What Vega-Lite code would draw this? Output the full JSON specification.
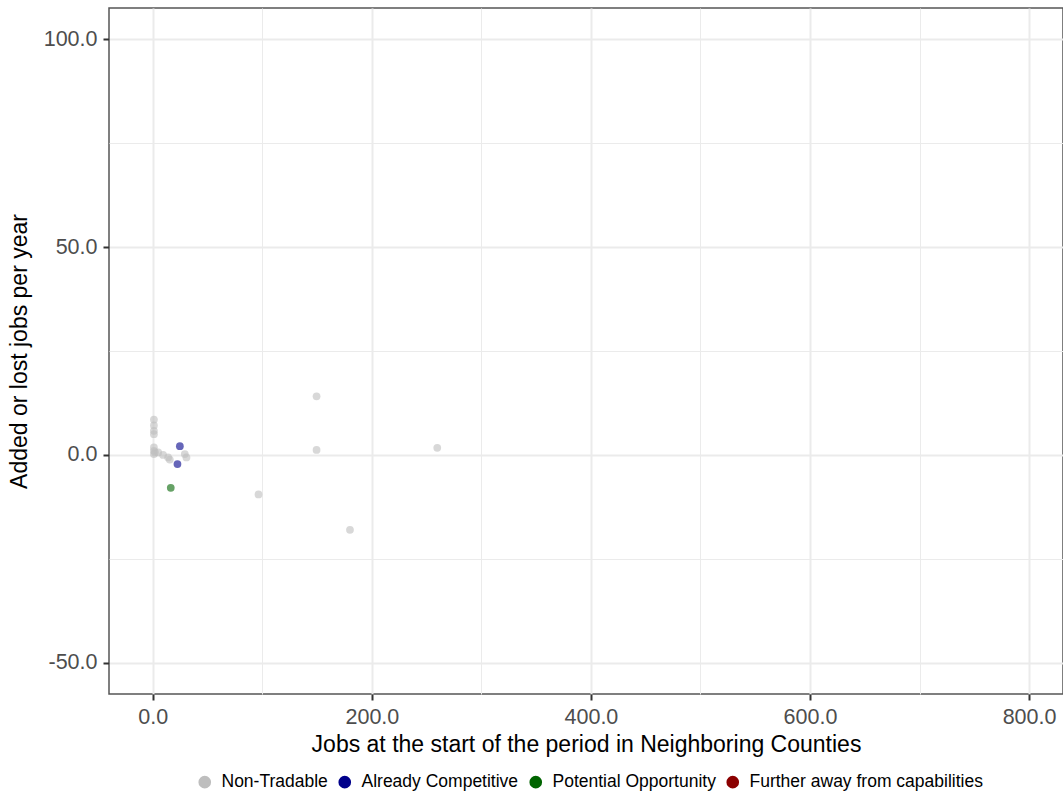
{
  "$schema": "https://vega.github.io/schema/vega-lite/v6.json",
  "width": 954,
  "height": 686,
  "padding": {"left": 8, "top": 8, "right": 0, "bottom": 0},
  "background": "white",
  "config": {
    "font": "Liberation Sans",
    "view": {"stroke": "#555555", "strokeWidth": 1.5}
  },
  "data": {
    "values": [
      {"jobs_start": 149.5, "change": 14.1, "group": "Non-Tradable"},
      {"jobs_start": 1.0, "change": 8.5, "group": "Non-Tradable"},
      {"jobs_start": 1.0, "change": 7.1, "group": "Non-Tradable"},
      {"jobs_start": 1.0, "change": 5.8, "group": "Non-Tradable"},
      {"jobs_start": 1.0, "change": 5.0, "group": "Non-Tradable"},
      {"jobs_start": 1.0, "change": 1.8, "group": "Non-Tradable"},
      {"jobs_start": 1.0, "change": 1.0, "group": "Non-Tradable"},
      {"jobs_start": 1.0, "change": 0.2, "group": "Non-Tradable"},
      {"jobs_start": 2.0, "change": 0.6, "group": "Non-Tradable"},
      {"jobs_start": 4.9, "change": 0.6, "group": "Non-Tradable"},
      {"jobs_start": 9.4, "change": 0.0, "group": "Non-Tradable"},
      {"jobs_start": 14.0, "change": -0.6, "group": "Non-Tradable"},
      {"jobs_start": 15.5, "change": -1.1, "group": "Non-Tradable"},
      {"jobs_start": 29.2, "change": 0.2, "group": "Non-Tradable"},
      {"jobs_start": 30.7, "change": -0.6, "group": "Non-Tradable"},
      {"jobs_start": 149.5, "change": 1.2, "group": "Non-Tradable"},
      {"jobs_start": 259.7, "change": 1.7, "group": "Non-Tradable"},
      {"jobs_start": 96.5, "change": -9.5, "group": "Non-Tradable"},
      {"jobs_start": 180.0, "change": -18.0, "group": "Non-Tradable"},
      {"jobs_start": 24.7, "change": 2.1, "group": "Already Competitive"},
      {"jobs_start": 22.5, "change": -2.2, "group": "Already Competitive"},
      {"jobs_start": 16.4, "change": -7.9, "group": "Potential Opportunity"}
    ]
  },
  "mark": {"type": "circle", "size": 60, "opacity": 0.6},
  "encoding": {
    "x": {
      "field": "jobs_start",
      "type": "quantitative",
      "scale": {"domain": [-40, 831], "nice": false, "zero": false},
      "axis": {
        "title": "Jobs at the start of the period in Neighboring Counties",
        "titleFontSize": 23,
        "titleFontWeight": "normal",
        "titleColor": "#000000",
        "titlePadding": 6,
        "values": [0, 100, 200, 300, 400, 500, 600, 700, 800],
        "labelExpr": "datum.value % 200 === 0 ? format(datum.value, '.1f') : ''",
        "labelFontSize": 21.5,
        "labelColor": "#4D4D4D",
        "labelPadding": 6,
        "domain": false,
        "tickSize": 6,
        "tickWidth": 2,
        "tickColor": {"condition": {"test": "datum.value % 200 === 0", "value": "#333333"}, "value": "transparent"},
        "grid": true,
        "gridColor": "#EBEBEB",
        "gridWidth": {"condition": {"test": "datum.value % 200 === 0", "value": 2}, "value": 1}
      }
    },
    "y": {
      "field": "change",
      "type": "quantitative",
      "scale": {"domain": [-57.5, 107.5], "nice": false, "zero": false},
      "axis": {
        "title": "Added or lost jobs per year",
        "titleFontSize": 23,
        "titleFontWeight": "normal",
        "titleColor": "#000000",
        "titlePadding": 12,
        "values": [-50, -25, 0, 25, 50, 75, 100],
        "labelExpr": "datum.value % 50 === 0 ? replace(format(datum.value, '.1f'), '\u2212', '-') : ''",
        "labelFontSize": 21.5,
        "labelColor": "#4D4D4D",
        "labelPadding": 6,
        "domain": false,
        "tickSize": 6,
        "tickWidth": 2,
        "tickColor": {"condition": {"test": "datum.value % 50 === 0", "value": "#333333"}, "value": "transparent"},
        "grid": true,
        "gridColor": "#EBEBEB",
        "gridWidth": {"condition": {"test": "datum.value % 50 === 0", "value": 2}, "value": 1}
      }
    },
    "color": {
      "field": "group",
      "type": "nominal",
      "scale": {
        "domain": ["Non-Tradable", "Already Competitive", "Potential Opportunity", "Further away from capabilities"],
        "range": ["#BEBEBE", "#00008B", "#006400", "#8B0000"]
      },
      "legend": {
        "title": null,
        "orient": "none",
        "legendX": 87,
        "legendY": 765,
        "direction": "horizontal",
        "columns": 4,
        "symbolType": "circle",
        "symbolSize": 160,
        "symbolOpacity": 1,
        "symbolStrokeWidth": 0,
        "labelFontSize": 17.5,
        "labelLimit": 400,
        "labelColor": "#000000",
        "labelOffset": 8,
        "columnPadding": 8
      }
    }
  }
}
